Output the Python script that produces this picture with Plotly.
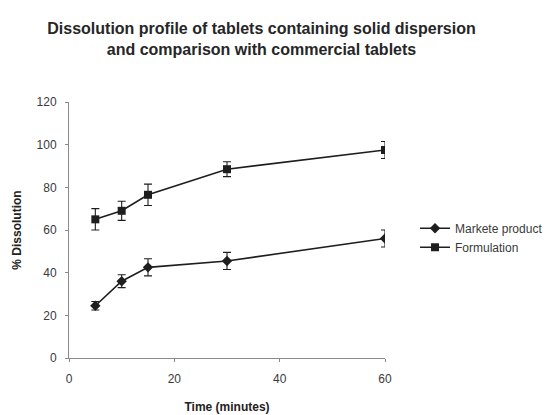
import plotly.graph_objects as go

# Sampling times (minutes)
time_min = [5, 10, 15, 30, 60]

# Mean % dissolved and standard deviations
marketed_mean = [24.5, 36, 42.5, 45.5, 56]
marketed_sd = [2, 3, 4, 4, 4]
formulation_mean = [65, 69, 76.5, 88.5, 97.5]
formulation_sd = [5, 4.5, 5, 3.5, 4]

series_names = ["Markete product", "Formulation"]
y_ticks = [0, 20, 40, 60, 80, 100, 120]
x_ticks = [0, 20, 40, 60]

ink = "#1e1e1e"
axis_grey = "#8a8a8a"
text_grey = "#3a3a3a"
font_family = "Liberation Sans, Arial, sans-serif"

fig = go.Figure()

fig.add_trace(go.Scatter(
    x=time_min, y=marketed_mean, name=series_names[0],
    mode="lines+markers",
    line=dict(color=ink, width=1.6),
    marker=dict(symbol="diamond", size=8, color=ink),
    error_y=dict(type="data", array=marketed_sd, visible=True,
                 color=ink, thickness=1.1, width=4),
))
fig.add_trace(go.Scatter(
    x=time_min, y=formulation_mean, name=series_names[1],
    mode="lines+markers",
    line=dict(color=ink, width=1.6),
    marker=dict(symbol="square", size=8, color=ink),
    error_y=dict(type="data", array=formulation_sd, visible=True,
                 color=ink, thickness=1.1, width=4),
))

fig.update_layout(
    width=560, height=415,
    margin=dict(l=69, r=175, t=102, b=57),
    paper_bgcolor="white", plot_bgcolor="white",
    font=dict(family=font_family, size=12, color=text_grey),
    title=dict(
        text="<b>Dissolution profile of tablets containing solid dispersion<br>"
             "and comparison with commercial tablets</b>",
        x=0.467, xanchor="center", y=0.917, yanchor="top",
        font=dict(size=16, color="#262626"),
    ),
    showlegend=True,
    legend=dict(
        x=1.095, xanchor="left", y=0.47, yanchor="middle",
        bgcolor="rgba(0,0,0,0)", font=dict(size=12, color=text_grey),
        tracegroupgap=2, itemwidth=30,
    ),
)

fig.update_xaxes(
    range=[0, 60], tickvals=x_ticks, showgrid=False, zeroline=False,
    showline=True, linecolor=axis_grey, linewidth=1, automargin=False,
    ticks="outside", ticklen=3, tickcolor=axis_grey,
    ticklabelstandoff=7,
    tickfont=dict(size=12, color=text_grey),
    title=dict(text="<b>Time (minutes)</b>", font=dict(size=12, color="#222222"),
               standoff=17),
)
fig.update_yaxes(
    range=[0, 120], tickvals=y_ticks, showgrid=False, zeroline=False,
    showline=True, linecolor=axis_grey, linewidth=1, automargin=False,
    ticks="outside", ticklen=3, tickcolor=axis_grey,
    ticklabelstandoff=6,
    tickfont=dict(size=12, color=text_grey),
    title=dict(text="<b>% Dissolution</b>", font=dict(size=12, color="#222222"),
               standoff=12),
)

fig.write_html("out.html")
